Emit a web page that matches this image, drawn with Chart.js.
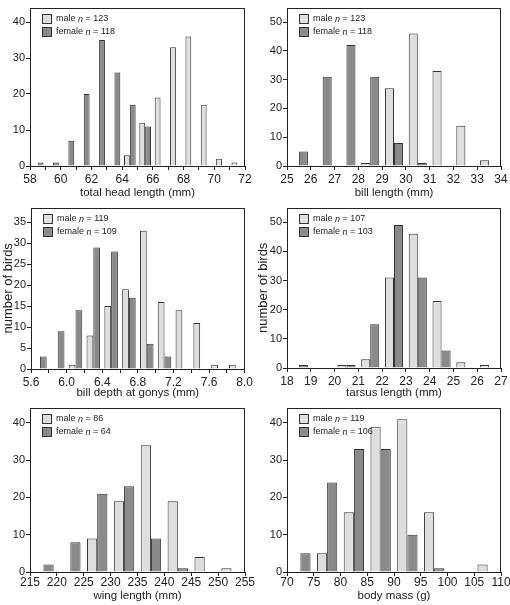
<!DOCTYPE html>
<html>
<head>
<meta charset="utf-8">
<script src="https://cdn.jsdelivr.net/npm/chart.js@4.4.0/dist/chart.umd.min.js"></script>
<style>
  html, body { margin: 0; padding: 0; background: #fff; }
  body { width: 510px; height: 605px; position: relative; overflow: hidden; }
  canvas { position: absolute; }
</style>
</head>
<body>
<canvas id="head"   width="255" height="200" style="left:0;top:0"></canvas>
<canvas id="bill"   width="255" height="200" style="left:255px;top:0"></canvas>
<canvas id="depth"  width="255" height="200" style="left:0;top:200px"></canvas>
<canvas id="tarsus" width="255" height="200" style="left:255px;top:200px"></canvas>
<canvas id="wing"   width="255" height="205" style="left:0;top:400px"></canvas>
<canvas id="mass"   width="255" height="205" style="left:255px;top:400px"></canvas>
<script>
// bin centres and counts (null = empty bin)
const headBins   = [58.5, 59.5, 60.5, 61.5, 62.5, 63.5, 64.5, 65.5, 66.5, 67.5, 68.5, 69.5, 70.5, 71.5];
const headMale   = [null, null, null, null, null, null, 3, 12, 19, 33, 36, 17, 2, 1];
const headFemale = [1, 1, 7, 20, 35, 26, 17, 11, null, null, null, null, null, null];
const headTickLabels = ['58', '60', '62', '64', '66', '68', '70', '72'];

const billBins   = [25.5, 26.5, 27.5, 28.5, 29.5, 30.5, 31.5, 32.5, 33.5];
const billMale   = [null, null, null, 1, 27, 46, 33, 14, 2];
const billFemale = [5, 31, 42, 31, 8, 1, null, null, null];

const depthBins   = [5.7, 5.9, 6.1, 6.3, 6.5, 6.7, 6.9, 7.1, 7.3, 7.5, 7.7, 7.9];
const depthMale   = [null, null, 1, 8, 15, 19, 33, 16, 14, 11, 1, 1];
const depthFemale = [3, 9, 14, 29, 28, 17, 6, 3, null, null, null, null];
const depthTickLabels = ['5.6', '6.0', '6.4', '6.8', '7.2', '7.6', '8.0'];

const tarsusBins   = [18.5, 19.5, 20.5, 21.5, 22.5, 23.5, 24.5, 25.5, 26.5];
const tarsusMale   = [null, null, 1, 3, 31, 46, 23, 2, 1];
const tarsusFemale = [1, null, 1, 15, 49, 31, 6, null, null];

const wingBins   = [217.5, 222.5, 227.5, 232.5, 237.5, 242.5, 247.5, 252.5];
const wingMale   = [null, null, 9, 19, 34, 19, 4, 1];
const wingFemale = [2, 8, 21, 23, 9, 1, null, null];

const massBins   = [72.5, 77.5, 82.5, 87.5, 92.5, 97.5, 102.5, 107.5];
const massMale   = [null, 5, 16, 39, 41, 16, null, 2];
const massFemale = [5, 24, 33, 33, 10, 1, null, null];

const INK = '#222';
const MALE = '#dedede';
const FEMALE = '#8a8a8a';
const EDGE = '#333';
const FAMILY = '"Liberation Sans", Arial, Helvetica, sans-serif';

// only some ticks carry a label
const pickLabel = (list, digits) => v => {
  const s = Number(v).toFixed(digits);
  return list.includes(s) ? s : '';
};

// box round the plot area
const framePlugin = {
  id: 'frame',
  afterDatasetsDraw(chart) {
    const { ctx, chartArea: a } = chart;
    const l = Math.round(a.left), t = Math.round(a.top);
    const r = Math.round(a.right), b = Math.round(a.bottom);
    ctx.save();
    ctx.strokeStyle = INK;
    ctx.lineWidth = 1;
    ctx.strokeRect(l + 0.5, t + 0.5, r - l - 1, b - t);
    ctx.restore();
  }
};

// legend inside the plot, top left: "male n = 123"
const legendPlugin = {
  id: 'boxLegend',
  afterDraw(chart) {
    const { ctx, chartArea: a } = chart;
    ctx.save();
    chart.data.datasets.forEach((ds, i) => {
      const x = Math.round(a.left) + 12;
      const y = Math.round(a.top) + 6 + i * 13;
      ctx.fillStyle = ds.backgroundColor;
      ctx.fillRect(x, y, 9, 9);
      ctx.strokeStyle = EDGE;
      ctx.lineWidth = 1;
      ctx.strokeRect(x + 0.5, y + 0.5, 9, 9);
      const n = ds.data.reduce((s, v) => s + (v || 0), 0);
      let tx = x + 14;
      const ty = y + 5;
      ctx.fillStyle = INK;
      ctx.textBaseline = 'middle';
      ctx.textAlign = 'left';
      const parts = [[ds.label + ' ', ''], ['n', 'italic '], [' = ' + n, '']];
      parts.forEach(([txt, style]) => {
        ctx.font = style + '9px ' + FAMILY;
        ctx.fillText(txt, tx, ty);
        tx += ctx.measureText(txt).width;
      });
    });
    ctx.restore();
  }
};

function histogram(id, p) {
  return new Chart(document.getElementById(id), {
    type: 'bar',
    data: {
      labels: p.bins,
      datasets: [
        { label: 'male', data: p.male, backgroundColor: MALE, borderColor: EDGE, borderWidth: 1,
          categoryPercentage: 0.76, barPercentage: 1 },
        { label: 'female', data: p.female, backgroundColor: FEMALE, borderColor: EDGE, borderWidth: 1,
          categoryPercentage: 0.76, barPercentage: 1 }
      ]
    },
    options: {
      responsive: false,
      animation: false,
      layout: { padding: p.pad },
      scales: {
        x: {
          type: 'linear', min: p.xMin, max: p.xMax, offset: false,
          grid: { offset: false, drawOnChartArea: false, tickLength: 4, tickColor: INK },
          border: { display: false },
          ticks: { stepSize: p.xStep, autoSkip: false, maxRotation: 0, padding: p.labelGap, color: INK,
                   font: { family: FAMILY, size: 12 }, callback: p.xLabel },
          title: { display: true, text: p.xTitle, color: INK, font: { family: FAMILY, size: 11.5 },
                   padding: { top: 0, bottom: p.titleGap } },
          afterFit: s => { s.height = p.xh; }
        },
        y: {
          min: 0, max: p.yMax,
          grid: { drawOnChartArea: false, tickLength: 4, tickColor: INK },
          border: { display: false },
          ticks: { stepSize: p.yStep, includeBounds: false, padding: 1, color: INK,
                   font: { family: FAMILY, size: 11 } },
          title: { display: !!p.yTitle, text: p.yTitle || '', color: INK,
                   font: { family: FAMILY, size: 13 }, padding: { top: 1, bottom: 0 } },
          afterFit: s => { s.width = p.yw; }
        }
      },
      plugins: { legend: { display: false }, tooltip: { enabled: false } }
    },
    plugins: [framePlugin, legendPlugin]
  });
}

histogram('head', {
  bins: headBins, male: headMale, female: headFemale,
  xMin: 58, xMax: 72, xStep: 1, yMax: 44, yStep: 10,
  xLabel: pickLabel(headTickLabels, 0),
  xTitle: 'total head length (mm)',
  pad: { left: 0, top: 3, right: 10, bottom: 0 }, yw: 30, xh: 34, labelGap: 2, titleGap: 0
});
histogram('bill', {
  bins: billBins, male: billMale, female: billFemale,
  xMin: 25, xMax: 34, xStep: 1, yMax: 55, yStep: 10,
  xTitle: 'bill length (mm)',
  pad: { left: 0, top: 3, right: 9, bottom: 0 }, yw: 32, xh: 34, labelGap: 2, titleGap: 0
});
histogram('depth', {
  bins: depthBins, male: depthMale, female: depthFemale,
  xMin: 5.6, xMax: 8.0, xStep: 0.2, yMax: 38.5, yStep: 5,
  xLabel: pickLabel(depthTickLabels, 1),
  xTitle: 'bill depth at gonys (mm)', yTitle: 'number of birds',
  pad: { left: 0, top: 5, right: 10, bottom: 0 }, yw: 31, xh: 31, labelGap: 2, titleGap: 0
});
histogram('tarsus', {
  bins: tarsusBins, male: tarsusMale, female: tarsusFemale,
  xMin: 18, xMax: 27, xStep: 1, yMax: 55, yStep: 10,
  xTitle: 'tarsus length (mm)', yTitle: 'number of birds',
  pad: { left: 0, top: 5, right: 9, bottom: 0 }, yw: 32, xh: 32, labelGap: 2, titleGap: 0
});
histogram('wing', {
  bins: wingBins, male: wingMale, female: wingFemale,
  xMin: 215, xMax: 255, xStep: 5, yMax: 44, yStep: 10,
  xTitle: 'wing length (mm)',
  pad: { left: 0, top: 8, right: 10, bottom: 0 }, yw: 30, xh: 33, labelGap: -1, titleGap: 2
});
histogram('mass', {
  bins: massBins, male: massMale, female: massFemale,
  xMin: 70, xMax: 110, xStep: 5, yMax: 44, yStep: 10,
  xTitle: 'body mass (g)',
  pad: { left: 0, top: 8, right: 9, bottom: 0 }, yw: 32, xh: 33, labelGap: -1, titleGap: 2
});
</script>
</body>
</html>
